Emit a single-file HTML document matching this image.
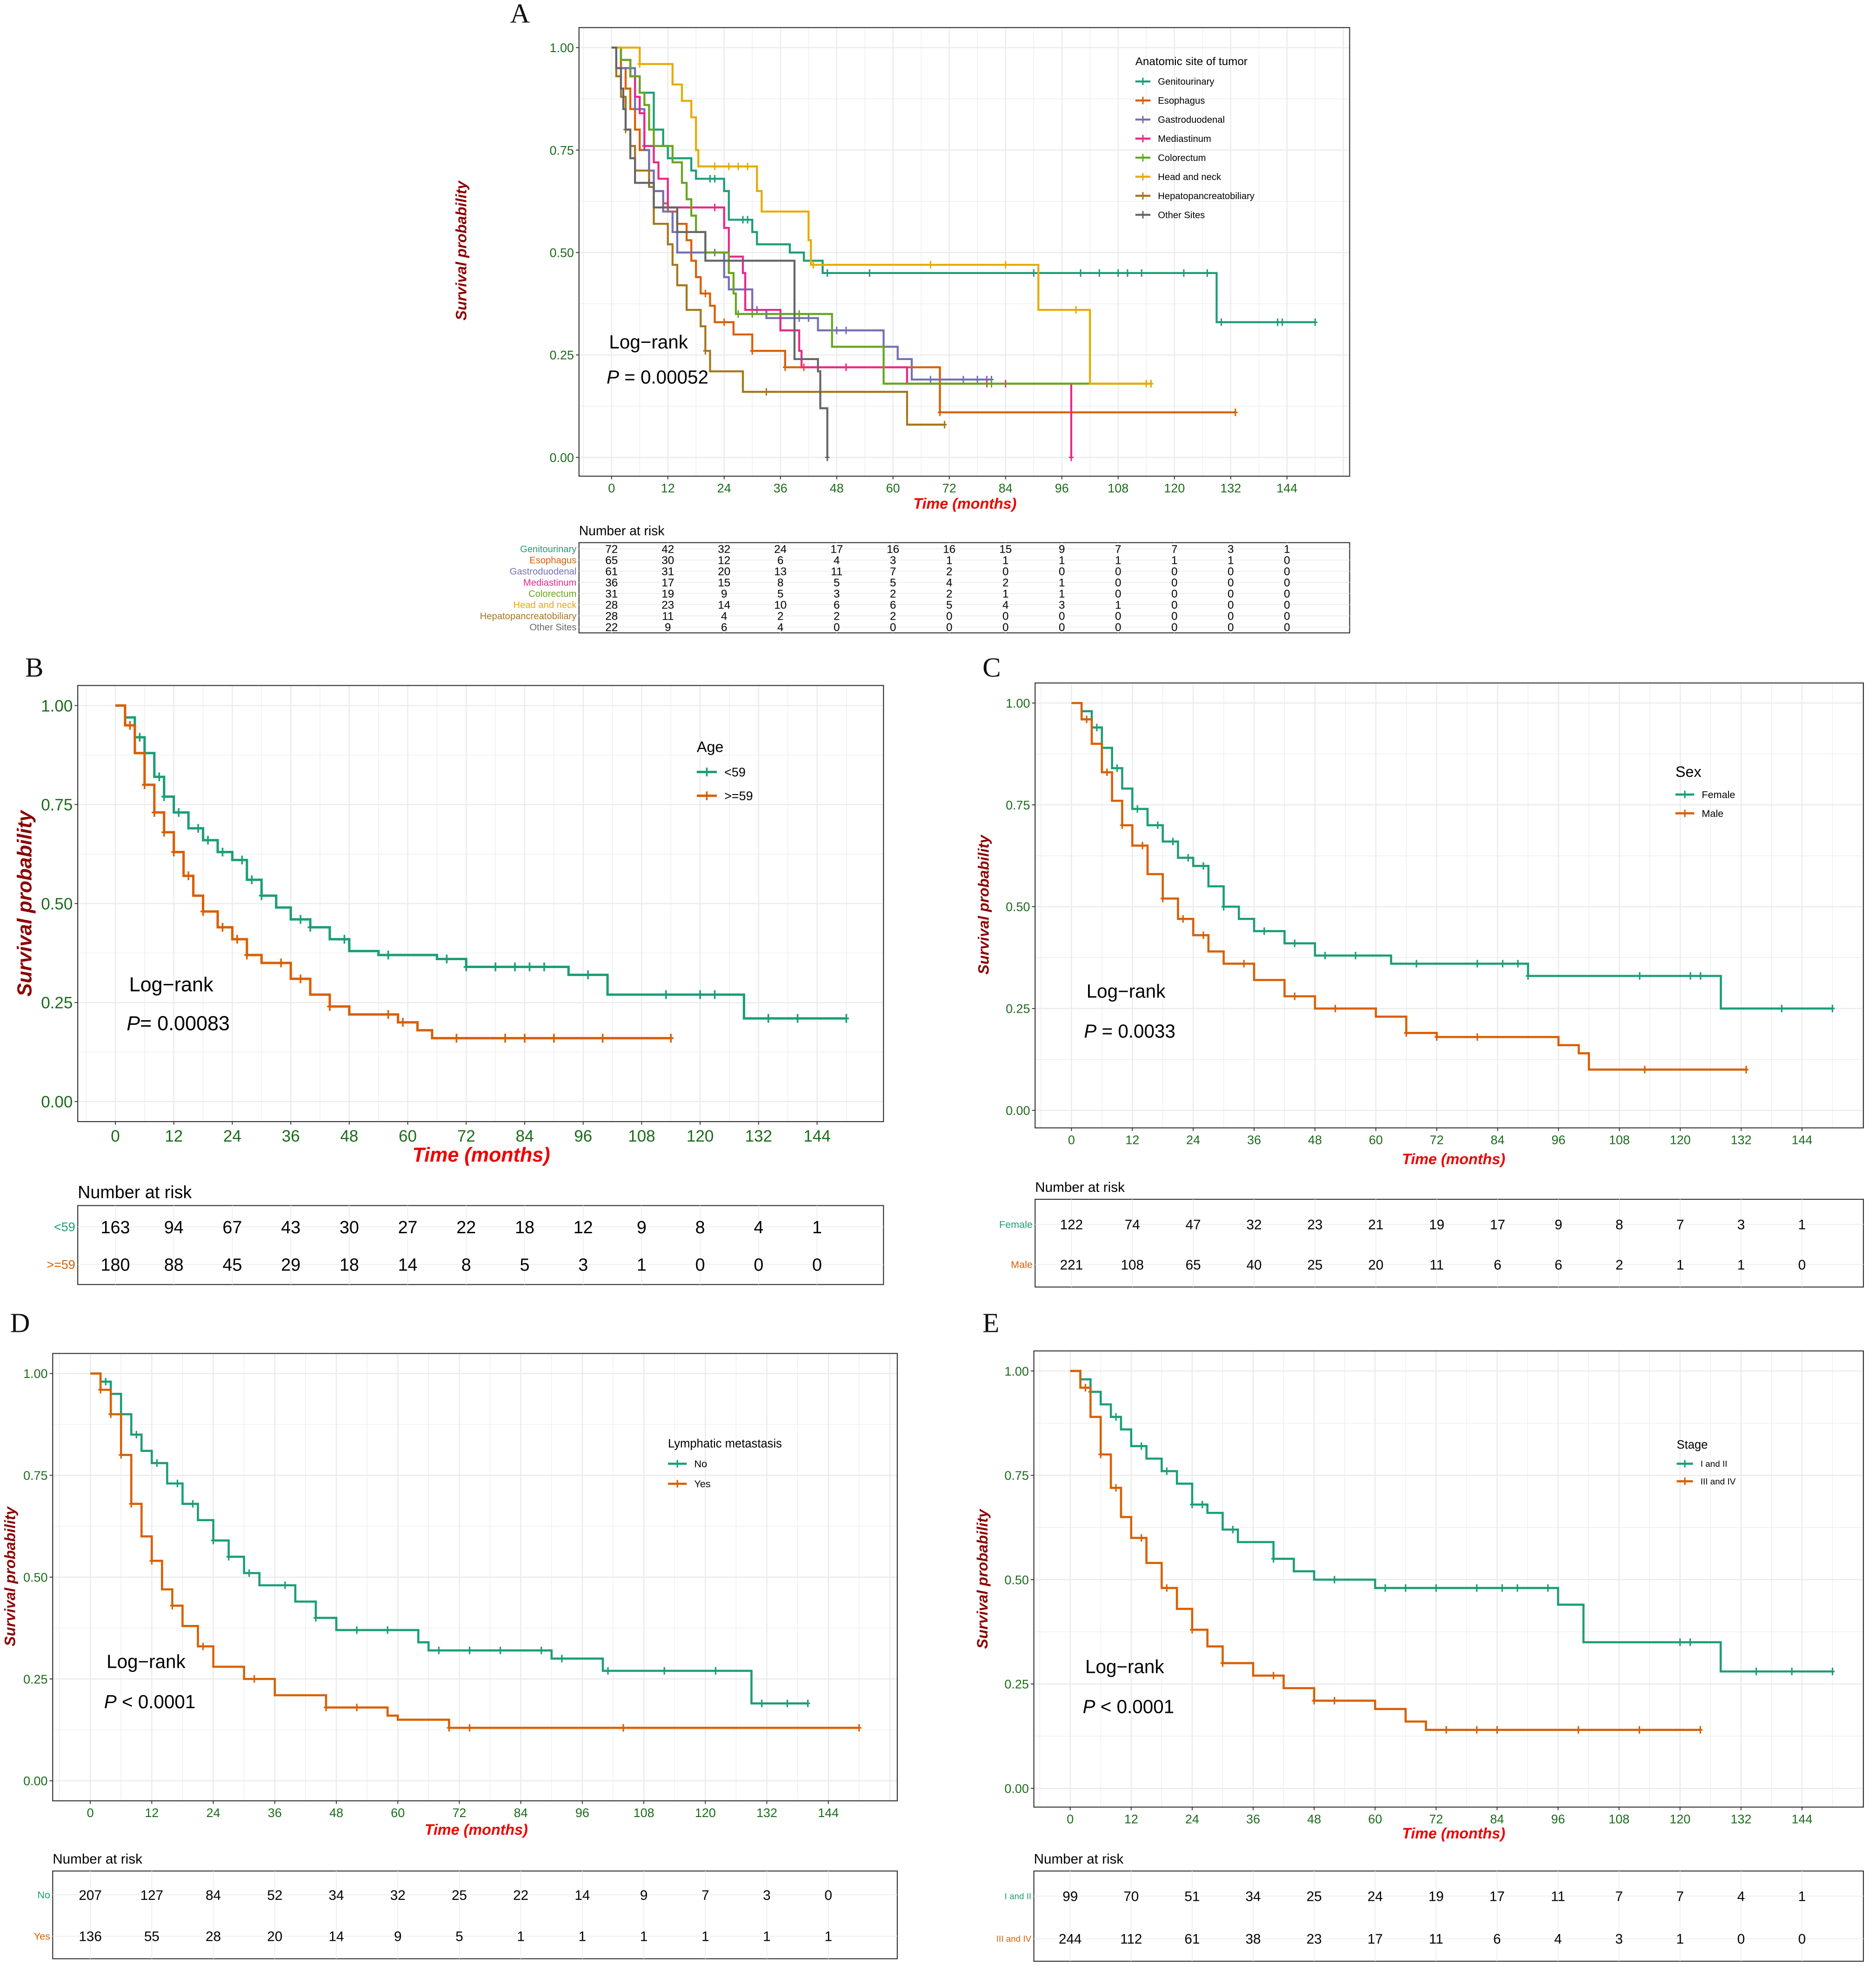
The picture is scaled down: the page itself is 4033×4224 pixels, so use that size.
<!DOCTYPE html>
<html><head><meta charset="utf-8">
<style>html,body{margin:0;padding:0;background:#fff}svg{display:block}</style>
</head><body>
<svg id="root" xmlns="http://www.w3.org/2000/svg" width="4033" height="4224" viewBox="0 0 1497 1568" font-family="Liberation Sans, sans-serif"></svg>
<script>
// ---------- DATA ----------
const timeTicks=[0,12,24,36,48,60,72,84,96,108,120,132,144];
const survTicks=[0,0.25,0.5,0.75,1];
const survTickLabels=["0.00","0.25","0.50","0.75","1.00"];

// Panel A
const aNames=["Genitourinary","Esophagus","Gastroduodenal","Mediastinum","Colorectum","Head and neck","Hepatopancreatobiliary","Other Sites"];
const aColors=["#1b9e77","#d95f02","#7570b3","#e7298a","#66a61e","#e6ab02","#a6761d","#666666"];
const aGenT=[2,4,6,9,11,12,17,18,24,25,30,31,38,41,45,129];
const aGenS=[0.97,0.93,0.89,0.8,0.76,0.73,0.7,0.68,0.65,0.58,0.55,0.52,0.5,0.48,0.45,0.33];
const aEsoT=[2,3,4,5,6,8,9,11,12,14,16,17,18,19,21,22,26,30,37,70];
const aEsoS=[0.95,0.9,0.85,0.8,0.75,0.7,0.65,0.62,0.6,0.57,0.53,0.48,0.44,0.4,0.37,0.33,0.3,0.26,0.22,0.11];
const aGasT=[1,5,7,8,9,11,13,14,24,25,30,33,44,58,61,64];
const aGasS=[0.95,0.85,0.75,0.7,0.65,0.6,0.55,0.5,0.44,0.41,0.36,0.34,0.31,0.27,0.24,0.19];
const aMedT=[2,4,5,6,7,9,10,12,24,25,28,28.5,36,40,40.5,63,98];
const aMedS=[0.97,0.93,0.88,0.84,0.76,0.72,0.68,0.61,0.56,0.49,0.45,0.36,0.31,0.26,0.22,0.18,0];
const aColT=[2,4,6,7,8,9,13,15,16,17,18,20,25,26,26.5,47,58];
const aColS=[0.97,0.93,0.89,0.86,0.8,0.76,0.72,0.67,0.63,0.59,0.55,0.5,0.45,0.4,0.35,0.27,0.18];
const aHeaT=[6,13,15,17,18,18.5,31,32,42,42.5,91,102];
const aHeaS=[0.96,0.91,0.87,0.83,0.75,0.71,0.65,0.6,0.53,0.47,0.36,0.18];
const aHepT=[1,2,3,4,5,8,9,12,13,14,16,19,20,21,28,63];
const aHepS=[0.93,0.88,0.8,0.76,0.7,0.66,0.57,0.52,0.47,0.42,0.36,0.32,0.26,0.21,0.16,0.08];
const aOthT=[1,2,2.5,3,4,5,9,14,20,39,44,44.5,46];
const aOthS=[0.95,0.9,0.85,0.8,0.73,0.67,0.61,0.55,0.48,0.24,0.21,0.12,0];
const aEnds=[150,133,81,98,115,115,71,46];
const aCens=[[21,22,28,29,46,55,90,100,104,108,110,113,122,127,130,142,143,150],[20,24,30,37,41,50,70,133],[22,30,31,40,42,48,50,68,75,78,80,81],[7,22,50,80,81,84,98],[20,27,30,40,81,115],[6,22,25,27,29,43,68,84,99,114,115],[3,20,33,71],[8,46]];
const aRisk=[[72,42,32,24,17,16,16,15,9,7,7,3,1],[65,30,12,6,4,3,1,1,1,1,1,1,0],[61,31,20,13,11,7,2,0,0,0,0,0,0],[36,17,15,8,5,5,4,2,1,0,0,0,0],[31,19,9,5,3,2,2,1,1,0,0,0,0],[28,23,14,10,6,6,5,4,3,1,0,0,0],[28,11,4,2,2,2,0,0,0,0,0,0,0],[22,9,6,4,0,0,0,0,0,0,0,0,0]];

// Panel B (Age)
const bYoungT=[2,4,6,8,10,12,15,18,21,24,27,30,33,36,40,44,48,54,66,72,93,101,129];
const bYoungS=[0.97,0.92,0.88,0.82,0.77,0.73,0.69,0.66,0.63,0.61,0.56,0.52,0.49,0.46,0.44,0.41,0.38,0.37,0.36,0.34,0.32,0.27,0.21];
const bOldT=[2,4,6,8,10,12,14,16,18,21,24,27,30,36,40,44,48,58,62,65];
const bOldS=[0.95,0.88,0.8,0.73,0.68,0.63,0.57,0.52,0.48,0.44,0.41,0.37,0.35,0.31,0.27,0.24,0.22,0.2,0.18,0.16];
const bEnds=[150,114];
const bCens=[[5,9,10,13,17,19,22,26,28,30,38,40,47,56,68,72,78,82,85,88,97,113,120,123,134,140,150],[3,6,8,10,12,15,18,22,25,27,34,38,44,56,59,70,80,84,90,100,114]];
const bRisk=[[163,94,67,43,30,27,22,18,12,9,8,4,1],[180,88,45,29,18,14,8,5,3,1,0,0,0]];

// Panel C (Sex)
const cFemT=[2,4,6,8,10,12,15,18,21,24,27,30,33,36,42,48,63,90,128];
const cFemS=[0.98,0.94,0.89,0.84,0.79,0.74,0.7,0.66,0.62,0.6,0.55,0.5,0.47,0.44,0.41,0.38,0.36,0.33,0.25];
const cMalT=[2,4,6,8,10,12,15,18,21,24,27,30,36,42,48,60,66,72,96,100,102];
const cMalS=[0.96,0.9,0.83,0.76,0.7,0.65,0.58,0.52,0.47,0.43,0.39,0.36,0.32,0.28,0.25,0.23,0.19,0.18,0.16,0.14,0.1];
const cEnds=[150,133];
const cCens=[[5,9,13,17,20,23,26,30,38,44,50,56,68,80,85,88,90,112,122,124,140,150],[3,7,10,14,18,22,26,34,44,52,66,72,80,113,133]];
const cRisk=[[122,74,47,32,23,21,19,17,9,8,7,3,1],[221,108,65,40,25,20,11,6,6,2,1,1,0]];

// Panel D (Lymphatic metastasis)
const dNoT=[2,4,6,8,10,12,15,18,21,24,27,30,33,40,44,48,64,66,90,100,129];
const dNoS=[0.98,0.95,0.9,0.85,0.81,0.78,0.73,0.68,0.64,0.59,0.55,0.51,0.48,0.44,0.4,0.37,0.34,0.32,0.3,0.27,0.19];
const dYesT=[2,4,6,8,10,12,14,16,18,21,24,30,36,46,58,60,70];
const dYesS=[0.96,0.9,0.8,0.68,0.6,0.54,0.47,0.43,0.38,0.33,0.28,0.25,0.21,0.18,0.16,0.15,0.13];
const dEnds=[140,150];
const dCens=[[3,6,9,13,17,20,24,27,31,38,44,52,58,68,74,80,88,92,101,112,122,131,136,140],[2,4,6,8,12,16,22,32,46,52,70,74,104,150]];
const dRisk=[[207,127,84,52,34,32,25,22,14,9,7,3,0],[136,55,28,20,14,9,5,1,1,1,1,1,1]];

// Panel E (Stage)
const eEarT=[2,4,6,8,10,12,15,18,21,24,27,30,33,40,44,48,60,96,101,128];
const eEarS=[0.98,0.95,0.92,0.89,0.86,0.82,0.79,0.76,0.73,0.68,0.66,0.62,0.59,0.55,0.52,0.5,0.48,0.44,0.35,0.28];
const eLatT=[2,4,6,8,10,12,15,18,21,24,27,30,36,42,48,60,66,70];
const eLatS=[0.96,0.89,0.8,0.72,0.65,0.6,0.54,0.48,0.43,0.38,0.34,0.3,0.27,0.24,0.21,0.19,0.16,0.14];
const eEnds=[150,124];
const eCens=[[4,9,14,19,24,26,32,40,52,62,66,72,80,85,88,94,120,122,135,142,150],[3,6,9,14,19,24,30,40,48,52,74,80,84,100,112,124]];
const eRisk=[[99,70,51,34,25,24,19,17,11,7,7,4,1],[244,112,61,38,23,17,11,6,4,3,1,0,0]];

// ---------- DRAW ----------
const NS="http://www.w3.org/2000/svg";
const root=document.getElementById('root');
function mk(tag,attrs,parent,name,inter){const e=document.createElementNS(NS,tag);for(const k in attrs)e.setAttribute(k,attrs[k]);


(parent||root).appendChild(e);return e;}
function txt(x,y,s,attrs,parent,name){const e=mk('text',Object.assign({x:x,y:y},attrs),parent,name);e.textContent=s;return e;}
function stepAt(T,S,t){let v=1;for(let i=0;i<T.length;i++){if(T[i]<=t)v=S[i];else break;}return v;}

function panel(c){
 const g=mk('g',{},root,c.id+'-panel');
 const X=t=>c.x0+(t/144)*(c.x144-c.x0), Y=s=>c.y0+(1-s)*(c.yz-c.y0);
 mk('rect',{x:c.bx1,y:c.by1,width:c.bx2-c.bx1,height:c.by2-c.by1,fill:'#fff'},g,'plot-background');
 // grids
 for(let t=-6;t<=c.gmax;t+=6){const x=X(t);if(x<c.bx1||x>c.bx2)continue;mk('line',{x1:x,x2:x,y1:c.by1,y2:c.by2,stroke:'#ebebeb','stroke-width':t%12===0?0.9:0.45},g,'x-gridline');}
 for(let s=-0.125;s<=1.13;s+=0.125){const y=Y(s);if(y<c.by1||y>c.by2)continue;mk('line',{x1:c.bx1,x2:c.bx2,y1:y,y2:y,stroke:'#ebebeb','stroke-width':Math.abs((s*4)-Math.round(s*4))<1e-6?0.9:0.45},g,'y-gridline');}
 mk('rect',{x:c.bx1,y:c.by1,width:c.bx2-c.bx1,height:c.by2-c.by1,fill:'none',stroke:'#333','stroke-width':0.8},g,'plot-border');
 // ticks
 survTicks.forEach((s,i)=>{const y=Y(s);mk('line',{x1:c.bx1-2.5,x2:c.bx1,y1:y,y2:y,stroke:'#333','stroke-width':0.7},g,'y-tick');
  txt(c.bx1-4,y+c.tfs*0.36,survTickLabels[i],{'font-size':c.tfs,fill:'#1a6b1a','text-anchor':'end'},g,'y-tick-label');});
 timeTicks.forEach(t=>{const x=X(t);mk('line',{x1:x,x2:x,y1:c.by2,y2:c.by2+2.5,stroke:'#333','stroke-width':0.7},g,'x-tick');
  txt(x,c.by2+3+c.tfs,String(t),{'font-size':c.tfs,fill:'#1a6b1a','text-anchor':'middle'},g,'x-tick-label');});
 // titles
 txt(c.xtx,c.xty,'Time (months)',{'font-size':c.afs,fill:'#ee0000','font-weight':'bold','font-style':'italic','text-anchor':'middle'},g,'x-axis-title');
 txt(0,0,'Survival probability',{'font-size':c.afs,fill:'#8b0000','font-weight':'bold','font-style':'italic','text-anchor':'middle',transform:`translate(${c.ytx},${c.yty}) rotate(-90)`},g,'y-axis-title');
 txt(c.letx,c.lety,c.letter,{'font-size':22,'font-family':'Liberation Serif, serif',fill:'#111'},g,'panel-letter');
 // curves
 c.series.forEach((sr,k)=>{
  let d=`M${X(0)},${Y(1)}`;
  for(let i=0;i<sr.T.length;i++){d+=` H${X(sr.T[i])} V${Y(sr.S[i])}`;}
  d+=` H${X(sr.end)}`;
  mk('path',{d:d,fill:'none',stroke:sr.col,'stroke-width':c.lw},g,'survival-curve-'+k);
  sr.cens.forEach(t=>{const x=X(t),y=Y(stepAt(sr.T,sr.S,t));
   mk('path',{d:`M${x},${y-c.cs}V${y+c.cs}M${x-c.cs*0.6},${y}H${x+c.cs*0.6}`,stroke:sr.col,'stroke-width':c.lw*0.7},g,'censor-mark');});
 });
 // log-rank
 txt(c.lrx,c.lry,'Log\u2212rank',{'font-size':c.lfs,fill:'#000'},g,'logrank-label');
 const p=txt(c.lrx-2,c.lry+c.lgap,'',{'font-size':c.lfs,fill:'#000'},g,'p-value');
 const ts=document.createElementNS(NS,'tspan');ts.setAttribute('font-style','italic');ts.textContent='P';p.appendChild(ts);
 p.appendChild(document.createTextNode(c.ptxt));
 // legend
 const lg=mk('g',{},g,'legend');
 txt(c.lgx,c.lgy,c.lgTitle,{'font-size':c.lgtfs,fill:'#000'},lg,'legend-title');
 c.series.forEach((sr,k)=>{const y=c.lgy+c.lgfirst+k*c.lgstep;
  mk('line',{x1:c.lgx,x2:c.lgx+c.lgw,y1:y,y2:y,stroke:sr.col,'stroke-width':c.lw},lg,'legend-key');
  mk('line',{x1:c.lgx+c.lgw/2,x2:c.lgx+c.lgw/2,y1:y-c.cs,y2:y+c.cs,stroke:sr.col,'stroke-width':c.lw*0.7},lg,'legend-key-cross');
  txt(c.lgx+c.lgw+6,y+c.lgfs*0.35,sr.name,{'font-size':c.lgfs,fill:'#000'},lg,'legend-entry');});
 // risk table
 const rt=mk('g',{},g,'risk-table');
 txt(c.bx1,c.rty1-6,'Number at risk',{'font-size':c.rtt,fill:'#000'},rt,'risk-table-title');
 mk('rect',{x:c.bx1,y:c.rty1,width:c.bx2-c.bx1,height:c.rty2-c.rty1,fill:'#fff',stroke:'#333','stroke-width':0.8},rt,'risk-table-border');
 timeTicks.forEach(t=>mk('line',{x1:X(t),x2:X(t),y1:c.rty1,y2:c.rty2,stroke:'#ebebeb','stroke-width':0.6},rt,'risk-gridline'));
 c.series.forEach((sr,k)=>{const y=c.rr0+k*c.rrs;
  mk('line',{x1:c.bx1,x2:c.bx2,y1:y,y2:y,stroke:'#ebebeb','stroke-width':0.6},rt,'risk-gridline');
  txt(c.bx1-2,y+c.rlfs*0.35,sr.name,{'font-size':c.rlfs,fill:sr.col,'text-anchor':'end'},rt,'risk-row-label');
  sr.risk.forEach((v,i)=>txt(X(timeTicks[i]),y+c.rfs*0.36,String(v),{'font-size':c.rfs,fill:'#000','text-anchor':'middle'},rt,'risk-count'));
 });
}

const aT=[aGenT,aEsoT,aGasT,aMedT,aColT,aHeaT,aHepT,aOthT], aS=[aGenS,aEsoS,aGasS,aMedS,aColS,aHeaS,aHepS,aOthS];
panel({id:'a',letter:'A',letx:407,lety:18,bx1:462,bx2:1077,by1:22,by2:380,x0:488,x144:1027,y0:38,yz:365,gmax:156,tfs:10,afs:12,
 xtx:770,xty:406,ytx:372,yty:200,lw:1.6,cs:3,lrx:486,lry:278,lgap:28,lfs:15,ptxt:' = 0.00052',
 lgx:906,lgy:52,lgTitle:'Anatomic site of tumor',lgtfs:9,lgfirst:13,lgstep:15.2,lgw:12,lgfs:7.5,
 rty1:433,rty2:505,rtt:10.5,rr0:438,rrs:8.9,rlfs:7.5,rfs:9,
 series:aNames.map((n,k)=>({name:n,col:aColors[k],T:aT[k],S:aS[k],end:aEnds[k],cens:aCens[k],risk:aRisk[k]}))});
panel({id:'b',letter:'B',letx:20,lety:540,bx1:62,bx2:705,by1:547,by2:895,x0:92,x144:652,y0:563,yz:879,gmax:150,tfs:13,afs:16,
 xtx:384,xty:927,ytx:25,yty:721,lw:1.9,cs:3.5,lrx:103,lry:791,lgap:31,lfs:16,ptxt:'= 0.00083',
 lgx:556,lgy:600,lgTitle:'Age',lgtfs:12,lgfirst:16,lgstep:19,lgw:16,lgfs:10,
 rty1:962,rty2:1025,rtt:14,rr0:979,rrs:30,rlfs:10,rfs:14,
 series:[{name:'<59',col:'#1b9e77',T:bYoungT,S:bYoungS,end:bEnds[0],cens:bCens[0],risk:bRisk[0]},{name:'>=59',col:'#d95f02',T:bOldT,S:bOldS,end:bEnds[1],cens:bCens[1],risk:bRisk[1]}]});
panel({id:'c',letter:'C',letx:784,lety:540,bx1:826,bx2:1487,by1:545,by2:900,x0:855,x144:1438,y0:561,yz:886,gmax:156,tfs:10,afs:12,
 xtx:1160,xty:929,ytx:789,yty:722,lw:1.7,cs:3,lrx:867,lry:796,lgap:32,lfs:15,ptxt:' = 0.0033',
 lgx:1337,lgy:620,lgTitle:'Sex',lgtfs:12,lgfirst:14,lgstep:15,lgw:15,lgfs:8,
 rty1:957,rty2:1027,rtt:11,rr0:977,rrs:32,rlfs:8,rfs:11,
 series:[{name:'Female',col:'#1b9e77',T:cFemT,S:cFemS,end:cEnds[0],cens:cCens[0],risk:cRisk[0]},{name:'Male',col:'#d95f02',T:cMalT,S:cMalS,end:cEnds[1],cens:cCens[1],risk:cRisk[1]}]});
panel({id:'d',letter:'D',letx:8,lety:1063,bx1:42,bx2:716,by1:1080,by2:1437,x0:72,x144:661,y0:1096,yz:1421,gmax:156,tfs:10,afs:12,
 xtx:380,xty:1464,ytx:12,yty:1258,lw:1.7,cs:3,lrx:85,lry:1331,lgap:32,lfs:15,ptxt:' < 0.0001',
 lgx:533,lgy:1155,lgTitle:'Lymphatic metastasis',lgtfs:9.5,lgfirst:13,lgstep:16,lgw:15,lgfs:8,
 rty1:1493,rty2:1563,rtt:11,rr0:1512,rrs:33,rlfs:8,rfs:11,
 series:[{name:'No',col:'#1b9e77',T:dNoT,S:dNoS,end:dEnds[0],cens:dCens[0],risk:dRisk[0]},{name:'Yes',col:'#d95f02',T:dYesT,S:dYesS,end:dEnds[1],cens:dCens[1],risk:dRisk[1]}]});
panel({id:'e',letter:'E',letx:784,lety:1063,bx1:825,bx2:1487,by1:1078,by2:1442,x0:854,x144:1438,y0:1094,yz:1427,gmax:156,tfs:10,afs:12,
 xtx:1160,xty:1467,ytx:788,yty:1260,lw:1.7,cs:3,lrx:866,lry:1335,lgap:32,lfs:15,ptxt:' < 0.0001',
 lgx:1338,lgy:1156,lgTitle:'Stage',lgtfs:9.5,lgfirst:12,lgstep:14,lgw:13,lgfs:7,
 rty1:1493,rty2:1565,rtt:11,rr0:1513,rrs:34,rlfs:7,rfs:11,
 series:[{name:'I and II',col:'#1b9e77',T:eEarT,S:eEarS,end:eEnds[0],cens:eCens[0],risk:eRisk[0]},{name:'III and IV',col:'#d95f02',T:eLatT,S:eLatS,end:eEnds[1],cens:eCens[1],risk:eRisk[1]}]});
</script>
</body></html>
